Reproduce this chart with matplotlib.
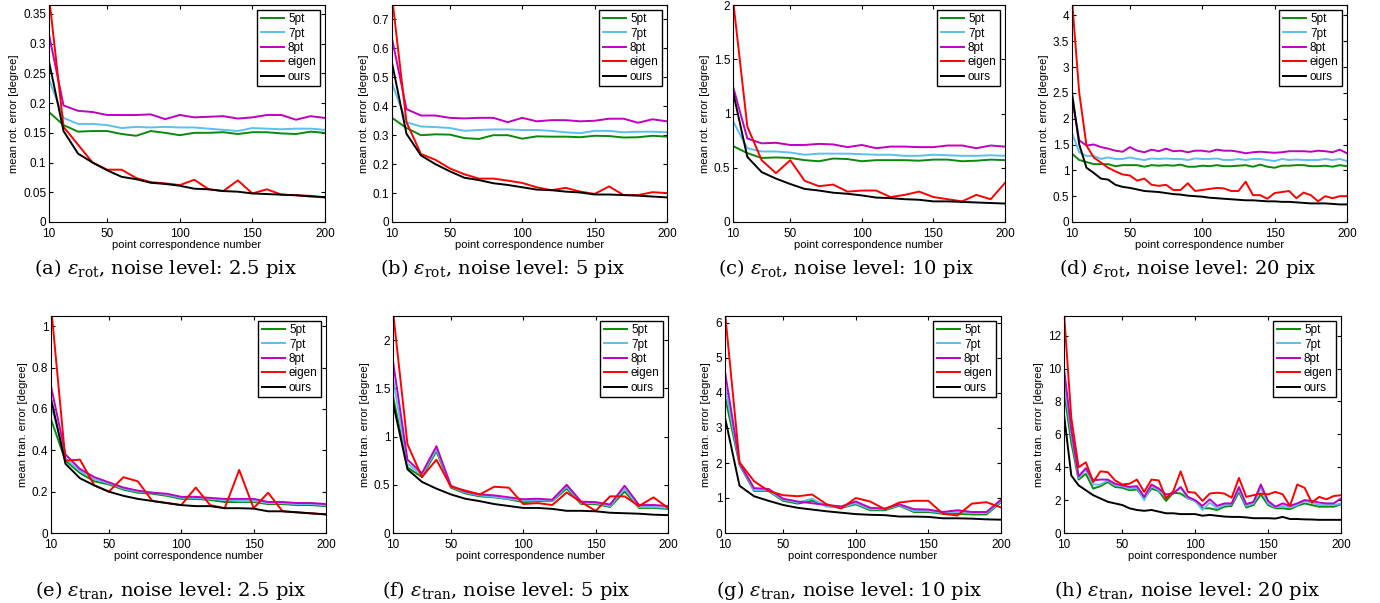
import matplotlib
matplotlib.use('Agg')
import matplotlib.pyplot as plt
from matplotlib.ticker import FormatStrFormatter

# x positions (point correspondence number)
x10 = list(range(10, 201, 10))
x5 = list(range(10, 201, 5))

methods = ['5pt', '7pt', '8pt', 'eigen', 'ours']
colors = ['#0a8a0a', '#5bbff0', '#c000c0', '#ff0000', '#000000']

# (a) rotation error, noise 2.5 pix
a_5pt = [0.185, 0.163, 0.152, 0.153, 0.153, 0.148, 0.145, 0.153, 0.150, 0.146, 0.150, 0.150, 0.151, 0.148, 0.151, 0.151, 0.149, 0.148, 0.152, 0.150]
a_7pt = [0.240, 0.175, 0.165, 0.165, 0.163, 0.158, 0.160, 0.159, 0.160, 0.159, 0.159, 0.157, 0.155, 0.153, 0.158, 0.157, 0.156, 0.157, 0.157, 0.155]
a_8pt = [0.315, 0.196, 0.187, 0.185, 0.180, 0.180, 0.180, 0.181, 0.173, 0.180, 0.176, 0.177, 0.178, 0.174, 0.176, 0.180, 0.180, 0.172, 0.178, 0.175]
a_eigen = [0.380, 0.160, 0.130, 0.100, 0.088, 0.088, 0.074, 0.067, 0.065, 0.062, 0.071, 0.055, 0.052, 0.070, 0.048, 0.055, 0.046, 0.045, 0.044, 0.041]
a_ours = [0.270, 0.153, 0.115, 0.100, 0.087, 0.076, 0.072, 0.066, 0.064, 0.061, 0.056, 0.055, 0.052, 0.051, 0.048, 0.047, 0.046, 0.045, 0.043, 0.042]

# (b) rotation error, noise 5 pix
b_5pt = [0.360, 0.325, 0.300, 0.303, 0.302, 0.290, 0.287, 0.300, 0.300, 0.288, 0.296, 0.295, 0.295, 0.293, 0.298, 0.297, 0.292, 0.293, 0.298, 0.295]
b_7pt = [0.480, 0.345, 0.330, 0.328, 0.325, 0.315, 0.318, 0.320, 0.320, 0.318, 0.318, 0.315, 0.310, 0.307, 0.315, 0.315, 0.310, 0.312, 0.312, 0.310]
b_8pt = [0.635, 0.390, 0.368, 0.368, 0.360, 0.358, 0.360, 0.360, 0.345, 0.360, 0.348, 0.352, 0.352, 0.348, 0.350, 0.357, 0.357, 0.343, 0.355, 0.348]
b_eigen = [0.780, 0.345, 0.235, 0.215, 0.185, 0.165, 0.150, 0.150, 0.143, 0.135, 0.120, 0.110, 0.118, 0.105, 0.097, 0.123, 0.093, 0.093, 0.103, 0.100]
b_ours = [0.550, 0.305, 0.230, 0.200, 0.175, 0.153, 0.145, 0.134, 0.128, 0.120, 0.112, 0.110, 0.105, 0.102, 0.095, 0.095, 0.093, 0.091, 0.088, 0.085]

# (c) rotation error, noise 10 pix
c_5pt = [0.70, 0.635, 0.59, 0.595, 0.59, 0.57, 0.56, 0.585, 0.58, 0.56, 0.57, 0.57, 0.57, 0.565, 0.575, 0.575, 0.56, 0.565, 0.575, 0.57]
c_7pt = [0.93, 0.68, 0.65, 0.65, 0.64, 0.62, 0.63, 0.63, 0.63, 0.625, 0.62, 0.62, 0.61, 0.61, 0.62, 0.615, 0.61, 0.61, 0.615, 0.61]
c_8pt = [1.25, 0.77, 0.725, 0.73, 0.71, 0.71, 0.72, 0.715, 0.69, 0.71, 0.68, 0.695, 0.695, 0.69, 0.69, 0.705, 0.705, 0.68, 0.705, 0.695]
c_eigen = [2.05, 0.88, 0.57, 0.45, 0.57, 0.38, 0.33, 0.345, 0.28, 0.29, 0.29, 0.23, 0.25, 0.28, 0.23, 0.21, 0.19, 0.25, 0.21, 0.36]
c_ours = [1.20, 0.60, 0.46, 0.40, 0.35, 0.305, 0.29, 0.27, 0.26, 0.245, 0.225, 0.22, 0.21, 0.205, 0.19, 0.19, 0.185, 0.18, 0.175, 0.17]

# (d) rotation error, noise 20 pix (step 5)
d_5pt = [1.32, 1.20, 1.16, 1.12, 1.12, 1.12, 1.08, 1.10, 1.10, 1.10, 1.07, 1.10, 1.09, 1.10, 1.09, 1.11, 1.07, 1.07, 1.09, 1.08,
         1.10, 1.08, 1.08, 1.09, 1.10, 1.07, 1.11, 1.07, 1.05, 1.09, 1.09, 1.10, 1.10, 1.08, 1.08, 1.09, 1.07, 1.10, 1.08]
d_7pt = [1.72, 1.35, 1.28, 1.28, 1.22, 1.25, 1.22, 1.22, 1.25, 1.22, 1.20, 1.23, 1.22, 1.23, 1.22, 1.22, 1.20, 1.23, 1.22, 1.22,
         1.23, 1.20, 1.20, 1.22, 1.20, 1.22, 1.22, 1.20, 1.18, 1.22, 1.20, 1.21, 1.20, 1.20, 1.20, 1.22, 1.20, 1.22, 1.18]
d_8pt = [2.40, 1.58, 1.48, 1.50, 1.45, 1.42, 1.38, 1.36, 1.45, 1.38, 1.35, 1.40, 1.37, 1.42, 1.37, 1.38, 1.35, 1.38, 1.38, 1.36,
         1.40, 1.38, 1.38, 1.36, 1.33, 1.35, 1.36, 1.35, 1.34, 1.35, 1.37, 1.37, 1.37, 1.36, 1.38, 1.37, 1.35, 1.40, 1.33]
d_eigen = [4.30, 2.50, 1.48, 1.25, 1.15, 1.05, 0.98, 0.92, 0.90, 0.80, 0.84, 0.72, 0.70, 0.72, 0.62, 0.62, 0.75, 0.60, 0.62, 0.64,
           0.66, 0.65, 0.60, 0.60, 0.78, 0.52, 0.52, 0.45, 0.56, 0.58, 0.60, 0.46, 0.57, 0.52, 0.40, 0.50, 0.46, 0.50, 0.50]
d_ours = [2.50, 1.50, 1.05, 0.95, 0.84, 0.82, 0.72, 0.68, 0.66, 0.63, 0.60, 0.59, 0.58, 0.56, 0.54, 0.53, 0.51, 0.50, 0.49, 0.47,
          0.46, 0.45, 0.44, 0.43, 0.42, 0.42, 0.41, 0.40, 0.40, 0.39, 0.39, 0.38, 0.37, 0.36, 0.36, 0.36, 0.35, 0.34, 0.34]

# (e) translation error, noise 2.5 pix
e_5pt = [0.55, 0.35, 0.29, 0.25, 0.235, 0.21, 0.195, 0.19, 0.18, 0.165, 0.165, 0.16, 0.15, 0.15, 0.15, 0.14, 0.14, 0.135, 0.135, 0.13]
e_7pt = [0.62, 0.36, 0.30, 0.26, 0.24, 0.215, 0.20, 0.195, 0.185, 0.17, 0.17, 0.165, 0.16, 0.155, 0.155, 0.145, 0.145, 0.14, 0.14, 0.135]
e_8pt = [0.71, 0.38, 0.31, 0.27, 0.245, 0.22, 0.205, 0.195, 0.19, 0.175, 0.175, 0.17, 0.165, 0.165, 0.165, 0.15, 0.15, 0.145, 0.145, 0.14]
e_eigen = [1.10, 0.35, 0.355, 0.23, 0.20, 0.27, 0.25, 0.155, 0.145, 0.135, 0.22, 0.135, 0.12, 0.305, 0.12, 0.195, 0.105, 0.10, 0.095, 0.09]
e_ours = [0.65, 0.335, 0.265, 0.23, 0.20, 0.18, 0.165, 0.155, 0.145, 0.135, 0.13, 0.13, 0.12, 0.12, 0.118, 0.105, 0.105, 0.10, 0.095, 0.09]

# (f) translation error, noise 5 pix
f_5pt = [1.42, 0.68, 0.58, 0.85, 0.47, 0.41, 0.38, 0.37, 0.35, 0.32, 0.33, 0.33, 0.46, 0.30, 0.30, 0.27, 0.43, 0.26, 0.26, 0.25]
f_7pt = [1.60, 0.72, 0.60, 0.87, 0.48, 0.42, 0.39, 0.375, 0.355, 0.335, 0.34, 0.335, 0.48, 0.31, 0.31, 0.28, 0.46, 0.27, 0.27, 0.26]
f_8pt = [1.78, 0.76, 0.62, 0.90, 0.49, 0.43, 0.40, 0.39, 0.37, 0.35, 0.355, 0.345, 0.50, 0.325, 0.32, 0.295, 0.49, 0.29, 0.29, 0.28]
f_eigen = [2.30, 0.92, 0.58, 0.76, 0.48, 0.44, 0.40, 0.48, 0.47, 0.30, 0.31, 0.29, 0.42, 0.32, 0.23, 0.38, 0.38, 0.28, 0.37, 0.26]
f_ours = [1.35, 0.66, 0.53, 0.46, 0.40, 0.355, 0.33, 0.30, 0.28, 0.26, 0.26, 0.25, 0.23, 0.23, 0.225, 0.21, 0.205, 0.20, 0.19, 0.185]

# (g) translation error, noise 10 pix
g_5pt = [3.90, 1.95, 1.20, 1.20, 0.92, 0.84, 0.92, 0.78, 0.72, 0.82, 0.65, 0.65, 0.78, 0.60, 0.60, 0.55, 0.55, 0.53, 0.53, 0.88]
g_7pt = [4.20, 1.98, 1.22, 1.22, 0.95, 0.87, 0.98, 0.75, 0.73, 0.85, 0.68, 0.68, 0.80, 0.63, 0.63, 0.58, 0.60, 0.57, 0.57, 0.90]
g_8pt = [4.60, 2.00, 1.28, 1.26, 0.98, 0.90, 0.85, 0.80, 0.76, 0.90, 0.72, 0.70, 0.82, 0.68, 0.67, 0.60, 0.65, 0.60, 0.60, 0.95]
g_eigen = [6.30, 2.02, 1.48, 1.20, 1.08, 1.05, 1.10, 0.82, 0.70, 1.00, 0.90, 0.68, 0.87, 0.92, 0.92, 0.55, 0.50, 0.84, 0.88, 0.73]
g_ours = [3.30, 1.35, 1.05, 0.92, 0.80, 0.72, 0.67, 0.62, 0.58, 0.54, 0.52, 0.51, 0.47, 0.47, 0.46, 0.42, 0.42, 0.41, 0.39, 0.38]

# (h) translation error, noise 20 pix (step 5)
h_5pt = [8.6, 5.5, 3.25, 3.6, 2.7, 2.85, 3.1, 2.8, 2.75, 2.6, 2.65, 2.1, 2.7, 2.55, 1.95, 2.45, 2.4, 2.1, 1.95, 1.5,
         1.5, 1.4, 1.6, 1.65, 2.5, 1.55, 1.7, 2.35, 1.7, 1.5, 1.5, 1.45, 1.65, 1.8, 1.7, 1.6, 1.6, 1.6, 1.75]
h_7pt = [9.2, 6.0, 3.35, 3.85, 2.95, 2.95, 3.2, 2.9, 2.85, 2.7, 2.75, 2.0, 2.85, 2.6, 2.2, 2.45, 2.75, 2.1, 1.95, 1.4,
         1.85, 1.5, 1.7, 1.75, 2.65, 1.65, 1.8, 2.75, 1.8, 1.55, 1.65, 1.55, 1.7, 1.95, 1.85, 1.7, 1.7, 1.7, 1.8]
h_8pt = [10.0, 6.3, 3.45, 3.95, 3.2, 3.25, 3.25, 3.0, 2.9, 2.8, 2.85, 2.2, 2.95, 2.7, 2.35, 2.4, 2.8, 2.2, 2.0, 1.65,
         2.05, 1.65, 1.8, 1.8, 2.8, 1.75, 1.9, 2.95, 1.95, 1.6, 1.8, 1.65, 1.8, 2.0, 1.95, 1.85, 1.8, 1.8, 2.1]
h_eigen = [13.4, 7.0, 4.0, 4.3, 3.1, 3.75, 3.7, 3.2, 2.95, 3.0, 3.25, 2.5, 3.25, 3.2, 2.1, 2.55, 3.75, 2.5, 2.45, 1.95,
           2.4, 2.45, 2.4, 2.15, 3.35, 2.2, 2.3, 2.4, 2.35, 2.5, 2.35, 1.65, 2.95, 2.75, 1.85, 2.2, 2.05, 2.25, 2.3]
h_ours = [7.2, 3.5, 2.9, 2.6, 2.3, 2.1, 1.9, 1.8, 1.7, 1.5, 1.4, 1.35, 1.4, 1.3, 1.2, 1.2, 1.15, 1.15, 1.15, 1.05,
          1.1, 1.05, 1.0, 0.98, 0.98, 0.95, 0.9, 0.9, 0.9, 0.88, 0.98, 0.85, 0.85, 0.83, 0.82, 0.8, 0.8, 0.8, 0.8]

captions = ['(a) $\\varepsilon_{\\mathrm{rot}}$, noise level: 2.5 pix',
            '(b) $\\varepsilon_{\\mathrm{rot}}$, noise level: 5 pix',
            '(c) $\\varepsilon_{\\mathrm{rot}}$, noise level: 10 pix',
            '(d) $\\varepsilon_{\\mathrm{rot}}$, noise level: 20 pix',
            '(e) $\\varepsilon_{\\mathrm{tran}}$, noise level: 2.5 pix',
            '(f) $\\varepsilon_{\\mathrm{tran}}$, noise level: 5 pix',
            '(g) $\\varepsilon_{\\mathrm{tran}}$, noise level: 10 pix',
            '(h) $\\varepsilon_{\\mathrm{tran}}$, noise level: 20 pix']
ylabels = ['mean rot. error [degree]'] * 4 + ['mean tran. error [degree]'] * 4
ytops = [0.365, 0.75, 2.0, 4.2, 1.05, 2.25, 6.2, 13.2]
ysteps = [0.05, 0.1, 0.5, 0.5, 0.2, 0.5, 1, 2]
ymaxtick = [0.35, 0.7, 2.0, 4.0, 1.0, 2.0, 6, 12]

panels = [
    (x10, [a_5pt, a_7pt, a_8pt, a_eigen, a_ours]),
    (x10, [b_5pt, b_7pt, b_8pt, b_eigen, b_ours]),
    (x10, [c_5pt, c_7pt, c_8pt, c_eigen, c_ours]),
    (x5, [d_5pt, d_7pt, d_8pt, d_eigen, d_ours]),
    (x10, [e_5pt, e_7pt, e_8pt, e_eigen, e_ours]),
    (x10, [f_5pt, f_7pt, f_8pt, f_eigen, f_ours]),
    (x10, [g_5pt, g_7pt, g_8pt, g_eigen, g_ours]),
    (x5, [h_5pt, h_7pt, h_8pt, h_eigen, h_ours]),
]

# axes boxes in pixels: left, right, top, bottom
boxes = [(49, 325, 5, 222), (392, 667, 5, 222), (733, 1005, 5, 222), (1072, 1347, 5, 222),
         (51, 326, 316, 533), (393, 668, 316, 533), (725, 1001, 316, 533), (1064, 1341, 316, 533)]
cap_x = [165, 503, 846, 1188, 171, 506, 849, 1187]
cap_y = [268, 268, 268, 268, 590, 590, 590, 590]

W, H = 1380, 603
plt.rcParams['font.family'] = ['Liberation Sans', 'DejaVu Sans']
plt.rcParams['mathtext.fontset'] = 'dejavuserif'

fig = plt.figure(figsize=(W / 100, H / 100), dpi=100)

for i, (xs, series) in enumerate(panels):
    l, r, t, b = boxes[i]
    ax = fig.add_axes([l / W, 1 - b / H, (r - l) / W, (b - t) / H])
    for ys, name, c in zip(series, methods, colors):
        ax.plot(xs, ys, color=c, linewidth=1.4, label=name)
    ax.set_xlim(10, 200)
    ax.set_ylim(0, ytops[i])
    ax.set_xticks([10, 50, 100, 150, 200])
    n = int(round(ymaxtick[i] / ysteps[i]))
    ax.set_yticks([k * ysteps[i] for k in range(n + 1)])
    ax.yaxis.set_major_formatter(FormatStrFormatter('%g'))
    ax.tick_params(direction='in', top=True, right=True, labelsize=8.5, length=3)
    ax.tick_params(axis='x', pad=4)
    ax.tick_params(axis='y', pad=2)
    ax.set_xlabel('point correspondence number', fontsize=8, labelpad=0)
    ax.set_ylabel(ylabels[i], fontsize=8, labelpad=3)
    for s in ax.spines.values():
        s.set_linewidth(0.8)
    leg = ax.legend(loc='upper right', fontsize=8.5, handlelength=2.0, labelspacing=0.2,
                    borderpad=0.3, handletextpad=0.3, borderaxespad=0.4, fancybox=False,
                    framealpha=1)
    leg.get_frame().set_edgecolor('black')
    leg.get_frame().set_linewidth(1.0)
    fig.text(cap_x[i] / W, 1 - cap_y[i] / H, captions[i], ha='center', va='center',
             fontsize=14, family='DejaVu Serif')

fig.savefig('out.png', dpi=100)
